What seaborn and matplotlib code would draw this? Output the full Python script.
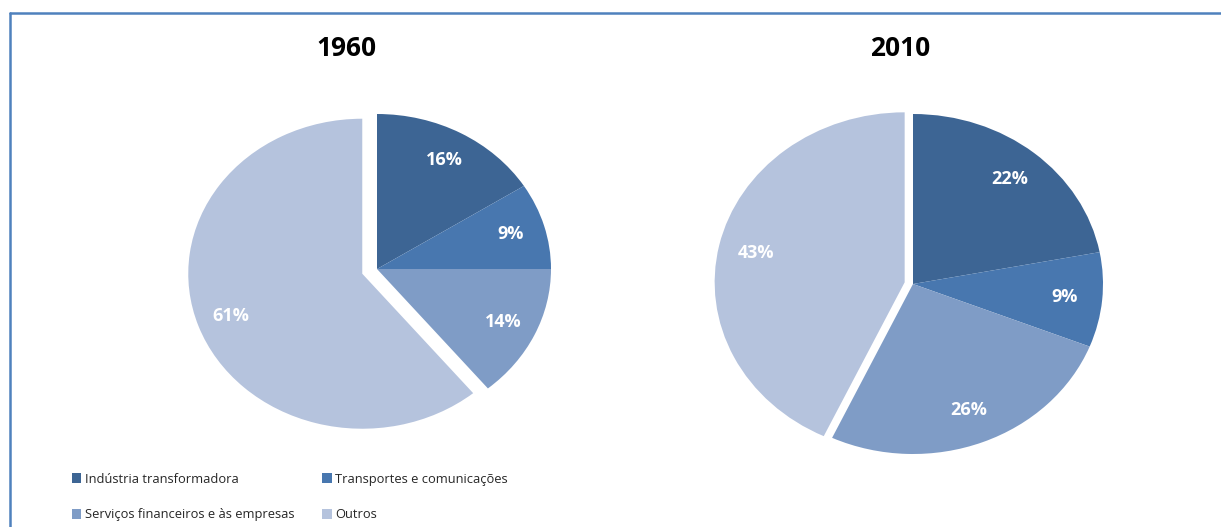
import matplotlib
matplotlib.use("Agg")
import matplotlib.pyplot as plt
import seaborn as sns
from matplotlib.patches import Patch
from matplotlib.lines import Line2D

sns.set_theme(style="white")
plt.rcParams['font.family'] = ['Open Sans', 'DejaVu Sans']

categories = ["Indústria transformadora", "Transportes e comunicações",
              "Serviços financeiros e às empresas", "Outros"]
years = ["1960", "2010"]
values_1960 = [16, 9, 14, 61]
values_2010 = [22, 9, 26, 43]
colors = ["#3D6594", "#4877AF", "#7F9CC6", "#B5C3DD"]

fig = plt.figure(figsize=(12.21, 5.27), dpi=100)

def draw(rect, vals, explode_out, title, title_xy):
    ax = fig.add_axes(rect)
    explode = [0, 0, 0, explode_out]
    wedges, texts, autotexts = ax.pie(
        vals, colors=colors, startangle=90, counterclock=False,
        explode=explode, autopct=lambda p: f"{p:.0f}%", pctdistance=0.8,
        wedgeprops=dict(linewidth=0))
    for t in autotexts:
        t.set_color("white")
        t.set_fontweight("bold")
        t.set_fontsize(13)
    ax.set_aspect("auto")
    ax.set_xlim(-1, 1)
    ax.set_ylim(-1, 1)
    ax.axis("off")
    fig.text(title_xy[0], title_xy[1], title, ha="center", va="center",
             fontsize=19, fontweight="bold", color="black")

draw([203/1221, (527-424)/527, 348/1221, 310/527], values_1960, 0.09,
     years[0], (346/1221, 1-48/527))
draw([723/1221, (527-454)/527, 380/1221, 340/527], values_2010, 0.045,
     years[1], (900/1221, 1-48/527))

# border
bc = "#4F81BD"
fig.add_artist(Line2D([10/1221, 10/1221], [0, 1-13/527], transform=fig.transFigure,
                      color=bc, linewidth=1.8))
fig.add_artist(Line2D([10/1221, 1], [1-13/527, 1-13/527], transform=fig.transFigure,
                      color=bc, linewidth=1.8))

order = [0, 2, 1, 3]
handles = [Patch(facecolor=colors[i], edgecolor="none") for i in order]
labels = [categories[i] for i in order]
fig.legend(handles, labels, ncol=2, loc="center left",
           bbox_to_anchor=(60/1221, 1-497/527), frameon=False,
           fontsize=9.3, handlelength=0.75, handleheight=0.75,
           handletextpad=0.3, columnspacing=2.1, labelspacing=1.75)

fig.savefig("out.png", dpi=100, facecolor="white")
